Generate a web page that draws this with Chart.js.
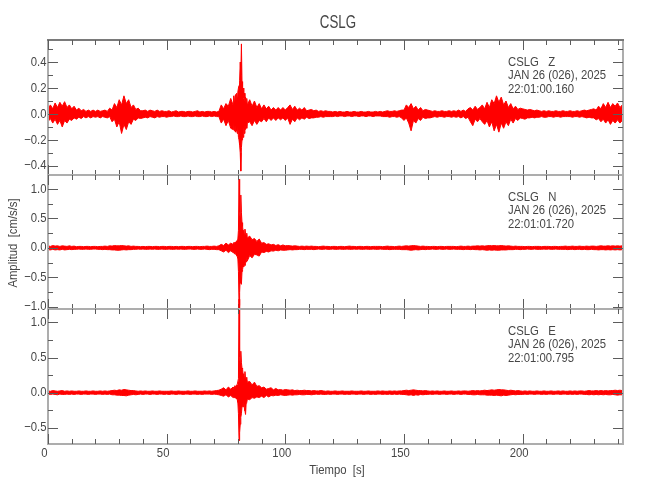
<!DOCTYPE html>
<html>
<head>
<meta charset="utf-8">
<script src="https://cdn.jsdelivr.net/npm/chart.js@4.4.1/dist/chart.umd.min.js"></script>
<style>
  body { margin: 0; background: #fff; }
  #lienzo { position: relative; width: 650px; height: 500px; }
  #lienzo canvas { position: absolute; left: 0; top: 0; }
</style>
</head>
<body>
<div id="lienzo">
  <canvas id="panelZ" width="650" height="500"></canvas>
  <canvas id="panelN" width="650" height="500"></canvas>
  <canvas id="panelE" width="650" height="500"></canvas>
</div>
<script>
"use strict";

// tiempos de muestreo de la envolvente [s] (mas fino alrededor del sismo)
const tiempo = [
    0, 1, 2, 3, 4, 5, 6, 7, 8, 9,
    10, 11, 12, 13, 14, 15, 16, 17, 18, 19,
    20, 21, 22, 23, 24, 25, 26, 27, 28, 29,
    30, 31, 32, 33, 34, 35, 36, 37, 38, 39,
    40, 41, 42, 43, 44, 45, 46, 47, 48, 49,
    50, 51, 52, 53, 54, 55, 56, 57, 58, 59,
    60, 61, 62, 63, 64, 65, 66, 67, 68, 69,
    70, 71, 72, 73, 74, 75, 76, 77,
    78, 78.25, 78.5, 78.75, 79, 79.25, 79.5, 79.75, 80, 80.25, 80.5, 80.75, 81,
    81.25, 81.5, 81.75, 82, 82.25, 82.5, 82.75, 83, 83.25, 83.5, 83.75, 84,
    85, 86, 87, 88, 89,
    90, 91, 92, 93, 94, 95, 96, 97, 98, 99,
    100, 101, 102, 103, 104, 105, 106, 107, 108, 109,
    110, 111, 112, 113, 114, 115, 116, 117, 118, 119,
    120, 121, 122, 123, 124, 125, 126, 127, 128, 129,
    130, 131, 132, 133, 134, 135, 136, 137, 138, 139,
    140, 141, 142, 143, 144, 145, 146, 147, 148, 149,
    150, 151, 152, 153, 154, 155, 156, 157, 158, 159,
    160, 161, 162, 163, 164, 165, 166, 167, 168, 169,
    170, 171, 172, 173, 174, 175, 176, 177, 178, 179,
    180, 181, 182, 183, 184, 185, 186, 187, 188, 189,
    190, 191, 192, 193, 194, 195, 196, 197, 198, 199,
    200, 201, 202, 203, 204, 205, 206, 207, 208, 209,
    210, 211, 212, 213, 214, 215, 216, 217, 218, 219,
    220, 221, 222, 223, 224, 225, 226, 227, 228, 229,
    230, 231, 232, 233, 234, 235, 236, 237, 238, 239,
    240, 241, 242,
];

// componente Z: envolvente superior e inferior [cm/s/s]
const zSup = [
    0.04, 0.07, 0.04, 0.085, 0.05, 0.09, 0.06, 0.095, 0.05, 0.07,
    0.04, 0.06, 0.03, 0.045, 0.025, 0.035, 0.02, 0.03, 0.02, 0.03,
    0.02, 0.03, 0.02, 0.025, 0.03, 0.02, 0.045, 0.03, 0.08, 0.05,
    0.11, 0.07, 0.14, 0.08, 0.11, 0.05, 0.07, 0.035, 0.045, 0.025,
    0.025, 0.03, 0.02, 0.03, 0.025, 0.02, 0.03, 0.02, 0.025, 0.02,
    0.02, 0.025, 0.015, 0.02, 0.025, 0.015, 0.02, 0.02, 0.015, 0.02,
    0.02, 0.015, 0.02, 0.025, 0.015, 0.02, 0.015, 0.02, 0.02, 0.015,
    0.02, 0.015, 0.02, 0.07, 0.04, 0.08, 0.06, 0.12,
    0.07, 0.14, 0.09, 0.13, 0.15, 0.1, 0.16, 0.12, 0.17, 0.2, 0.22, 0.26, 0.4,
    0.3, 0.54, 0.25, 0.18, 0.2, 0.12, 0.16, 0.1, 0.13, 0.08, 0.12, 0.07,
    0.11, 0.06, 0.1, 0.05, 0.08,
    0.04, 0.07, 0.04, 0.06, 0.03, 0.05, 0.03, 0.05, 0.03, 0.05,
    0.03, 0.05, 0.07, 0.035, 0.06, 0.03, 0.045, 0.03, 0.05, 0.025,
    0.03, 0.035, 0.025, 0.03, 0.02, 0.025, 0.02, 0.025, 0.02, 0.02,
    0.015, 0.02, 0.015, 0.02, 0.015, 0.015, 0.02, 0.015, 0.015, 0.02,
    0.015, 0.015, 0.02, 0.015, 0.015, 0.02, 0.015, 0.015, 0.02, 0.015,
    0.02, 0.015, 0.02, 0.025, 0.02, 0.02, 0.025, 0.02, 0.025, 0.03,
    0.03, 0.07, 0.05, 0.08, 0.04, 0.06, 0.03, 0.05, 0.025, 0.035,
    0.03, 0.025, 0.02, 0.025, 0.02, 0.02, 0.025, 0.02, 0.02, 0.025,
    0.02, 0.025, 0.02, 0.03, 0.02, 0.03, 0.02, 0.04, 0.05, 0.03,
    0.06, 0.035, 0.05, 0.07, 0.04, 0.09, 0.05, 0.11, 0.08, 0.14,
    0.09, 0.13, 0.07, 0.1, 0.05, 0.08, 0.04, 0.06, 0.035, 0.045,
    0.04, 0.035, 0.03, 0.035, 0.03, 0.025, 0.03, 0.025, 0.02, 0.025,
    0.02, 0.025, 0.02, 0.02, 0.025, 0.02, 0.02, 0.025, 0.02, 0.02,
    0.025, 0.02, 0.02, 0.025, 0.02, 0.025, 0.03, 0.025, 0.03, 0.035,
    0.04, 0.03, 0.06, 0.04, 0.08, 0.05, 0.09, 0.05, 0.08, 0.06,
    0.085, 0.05, 0.07,
];
const zInf = [
    -0.06, -0.035, -0.07, -0.04, -0.08, -0.05, -0.1, -0.05, -0.07, -0.04,
    -0.05, -0.03, -0.04, -0.025, -0.035, -0.02, -0.03, -0.02, -0.03, -0.02,
    -0.025, -0.02, -0.03, -0.02, -0.025, -0.03, -0.02, -0.06, -0.04, -0.1,
    -0.06, -0.15, -0.08, -0.12, -0.06, -0.08, -0.04, -0.05, -0.03, -0.035,
    -0.03, -0.025, -0.03, -0.02, -0.025, -0.03, -0.02, -0.025, -0.02, -0.02,
    -0.025, -0.02, -0.02, -0.015, -0.02, -0.02, -0.015, -0.02, -0.02, -0.015,
    -0.02, -0.02, -0.015, -0.02, -0.02, -0.015, -0.02, -0.02, -0.015, -0.02,
    -0.015, -0.02, -0.02, -0.07, -0.04, -0.09, -0.05, -0.11,
    -0.12, -0.07, -0.13, -0.09, -0.14, -0.08, -0.13, -0.15, -0.1, -0.18, -0.2, -0.24, -0.3,
    -0.44, -0.26, -0.2, -0.16, -0.18, -0.1, -0.15, -0.09, -0.12, -0.08, -0.11, -0.07,
    -0.06, -0.09, -0.05, -0.08, -0.05,
    -0.06, -0.035, -0.06, -0.03, -0.05, -0.03, -0.05, -0.03, -0.045, -0.03,
    -0.05, -0.03, -0.08, -0.04, -0.06, -0.03, -0.045, -0.03, -0.04, -0.025,
    -0.035, -0.03, -0.03, -0.025, -0.025, -0.02, -0.025, -0.02, -0.02, -0.02,
    -0.02, -0.015, -0.02, -0.015, -0.015, -0.02, -0.015, -0.015, -0.02, -0.015,
    -0.015, -0.02, -0.015, -0.015, -0.02, -0.015, -0.015, -0.02, -0.015, -0.015,
    -0.015, -0.02, -0.02, -0.02, -0.025, -0.02, -0.02, -0.025, -0.02, -0.03,
    -0.05, -0.03, -0.07, -0.13, -0.05, -0.07, -0.035, -0.05, -0.025, -0.035,
    -0.03, -0.03, -0.025, -0.02, -0.025, -0.02, -0.02, -0.025, -0.02, -0.02,
    -0.025, -0.02, -0.025, -0.02, -0.03, -0.02, -0.035, -0.025, -0.06, -0.09,
    -0.04, -0.06, -0.035, -0.06, -0.08, -0.05, -0.1, -0.06, -0.13, -0.08,
    -0.14, -0.07, -0.11, -0.06, -0.09, -0.04, -0.07, -0.035, -0.05, -0.03,
    -0.035, -0.04, -0.03, -0.03, -0.025, -0.03, -0.025, -0.025, -0.02, -0.025,
    -0.025, -0.02, -0.02, -0.025, -0.02, -0.02, -0.025, -0.02, -0.02, -0.02,
    -0.02, -0.025, -0.02, -0.02, -0.025, -0.02, -0.025, -0.03, -0.025, -0.03,
    -0.03, -0.045, -0.035, -0.06, -0.04, -0.07, -0.045, -0.08, -0.05, -0.07,
    -0.045, -0.07, -0.05,
];

// componente N
const nSup = [
    0.035, 0.025, 0.04, 0.03, 0.035, 0.025, 0.035, 0.03, 0.025, 0.035,
    0.025, 0.03, 0.02, 0.025, 0.025, 0.02, 0.025, 0.025, 0.02, 0.025,
    0.025, 0.02, 0.025, 0.025, 0.03, 0.025, 0.035, 0.03, 0.04, 0.035,
    0.035, 0.04, 0.035, 0.03, 0.035, 0.025, 0.03, 0.025, 0.025, 0.02,
    0.025, 0.02, 0.025, 0.025, 0.02, 0.025, 0.025, 0.02, 0.025, 0.025,
    0.02, 0.025, 0.025, 0.02, 0.025, 0.02, 0.025, 0.025, 0.02, 0.025,
    0.025, 0.02, 0.025, 0.025, 0.02, 0.025, 0.025, 0.03, 0.025, 0.025,
    0.03, 0.025, 0.035, 0.06, 0.04, 0.08, 0.05, 0.08,
    0.06, 0.09, 0.07, 0.1, 0.08, 0.11, 0.12, 0.13, 0.15, 0.3, 1.17, 0.6, 0.5,
    0.9, 0.6, 0.43, 0.36, 0.28, 0.3, 0.22, 0.32, 0.24, 0.2, 0.25, 0.17,
    0.2, 0.14, 0.16, 0.11, 0.15,
    0.08, 0.09, 0.06, 0.07, 0.05, 0.06, 0.04, 0.055, 0.035, 0.05,
    0.035, 0.04, 0.035, 0.03, 0.035, 0.03, 0.025, 0.03, 0.025, 0.03,
    0.025, 0.03, 0.025, 0.025, 0.02, 0.025, 0.03, 0.025, 0.025, 0.02,
    0.025, 0.025, 0.02, 0.025, 0.025, 0.02, 0.025, 0.03, 0.025, 0.025,
    0.02, 0.025, 0.025, 0.02, 0.025, 0.025, 0.02, 0.025, 0.025, 0.025,
    0.025, 0.02, 0.025, 0.03, 0.025, 0.025, 0.02, 0.025, 0.03, 0.025,
    0.03, 0.035, 0.03, 0.035, 0.04, 0.035, 0.03, 0.025, 0.03, 0.025,
    0.025, 0.02, 0.025, 0.025, 0.02, 0.025, 0.025, 0.02, 0.025, 0.025,
    0.025, 0.025, 0.02, 0.025, 0.03, 0.025, 0.025, 0.03, 0.025, 0.03,
    0.03, 0.035, 0.03, 0.035, 0.03, 0.035, 0.04, 0.035, 0.04, 0.035,
    0.035, 0.04, 0.035, 0.03, 0.035, 0.03, 0.025, 0.03, 0.025, 0.025,
    0.025, 0.02, 0.025, 0.025, 0.02, 0.025, 0.025, 0.025, 0.02, 0.025,
    0.025, 0.025, 0.02, 0.025, 0.025, 0.02, 0.025, 0.025, 0.03, 0.025,
    0.025, 0.03, 0.025, 0.025, 0.03, 0.025, 0.025, 0.03, 0.025, 0.03,
    0.03, 0.025, 0.03, 0.035, 0.03, 0.03, 0.035, 0.03, 0.035, 0.03,
    0.035, 0.03, 0.035,
];
const nInf = [
    -0.03, -0.035, -0.025, -0.035, -0.03, -0.035, -0.025, -0.035, -0.03, -0.025,
    -0.03, -0.025, -0.025, -0.02, -0.025, -0.025, -0.02, -0.025, -0.025, -0.02,
    -0.02, -0.025, -0.025, -0.03, -0.025, -0.03, -0.03, -0.035, -0.035, -0.04,
    -0.04, -0.035, -0.03, -0.035, -0.03, -0.03, -0.025, -0.025, -0.02, -0.025,
    -0.02, -0.025, -0.025, -0.02, -0.025, -0.02, -0.025, -0.025, -0.02, -0.025,
    -0.025, -0.02, -0.025, -0.025, -0.02, -0.025, -0.02, -0.025, -0.025, -0.02,
    -0.02, -0.025, -0.025, -0.02, -0.025, -0.025, -0.02, -0.025, -0.03, -0.025,
    -0.025, -0.03, -0.03, -0.05, -0.07, -0.04, -0.08, -0.05,
    -0.08, -0.06, -0.1, -0.07, -0.1, -0.12, -0.13, -0.15, -0.18, -0.4, -0.98, -0.76, -0.5,
    -0.6, -0.62, -0.4, -0.37, -0.3, -0.32, -0.22, -0.3, -0.2, -0.24, -0.16, -0.22,
    -0.13, -0.17, -0.11, -0.12, -0.14,
    -0.07, -0.08, -0.06, -0.07, -0.05, -0.055, -0.04, -0.05, -0.035, -0.04,
    -0.04, -0.035, -0.03, -0.035, -0.03, -0.03, -0.025, -0.025, -0.03, -0.025,
    -0.025, -0.025, -0.03, -0.025, -0.02, -0.025, -0.025, -0.02, -0.025, -0.025,
    -0.02, -0.025, -0.025, -0.02, -0.025, -0.025, -0.02, -0.025, -0.025, -0.02,
    -0.025, -0.02, -0.025, -0.025, -0.02, -0.025, -0.025, -0.02, -0.025, -0.025,
    -0.02, -0.025, -0.025, -0.025, -0.03, -0.025, -0.025, -0.025, -0.025, -0.03,
    -0.03, -0.03, -0.035, -0.04, -0.035, -0.03, -0.035, -0.03, -0.025, -0.03,
    -0.025, -0.025, -0.02, -0.025, -0.025, -0.02, -0.025, -0.025, -0.02, -0.025,
    -0.025, -0.02, -0.025, -0.025, -0.025, -0.03, -0.025, -0.025, -0.03, -0.025,
    -0.03, -0.03, -0.035, -0.03, -0.035, -0.04, -0.035, -0.04, -0.035, -0.04,
    -0.04, -0.035, -0.035, -0.035, -0.03, -0.03, -0.03, -0.025, -0.025, -0.03,
    -0.025, -0.025, -0.02, -0.025, -0.025, -0.02, -0.025, -0.025, -0.025, -0.02,
    -0.025, -0.02, -0.025, -0.025, -0.02, -0.025, -0.025, -0.025, -0.025, -0.03,
    -0.025, -0.025, -0.03, -0.025, -0.025, -0.03, -0.025, -0.03, -0.03, -0.025,
    -0.03, -0.03, -0.035, -0.03, -0.03, -0.035, -0.03, -0.035, -0.03, -0.035,
    -0.03, -0.035, -0.03,
];

// componente E
const eSup = [
    0.025, 0.02, 0.03, 0.025, 0.02, 0.025, 0.03, 0.02, 0.025, 0.02,
    0.025, 0.02, 0.02, 0.025, 0.02, 0.02, 0.025, 0.02, 0.02, 0.025,
    0.02, 0.02, 0.025, 0.02, 0.025, 0.02, 0.025, 0.03, 0.035, 0.03,
    0.04, 0.035, 0.045, 0.04, 0.035, 0.03, 0.03, 0.025, 0.02, 0.025,
    0.02, 0.025, 0.02, 0.02, 0.025, 0.02, 0.02, 0.025, 0.02, 0.02,
    0.02, 0.02, 0.025, 0.02, 0.02, 0.025, 0.02, 0.02, 0.02, 0.025,
    0.02, 0.02, 0.025, 0.02, 0.02, 0.02, 0.025, 0.02, 0.025, 0.02,
    0.025, 0.03, 0.035, 0.05, 0.07, 0.04, 0.08, 0.05,
    0.08, 0.06, 0.08, 0.1, 0.07, 0.1, 0.11, 0.12, 0.12, 0.2, 1.33, 0.5, 0.4,
    0.59, 0.43, 0.35, 0.33, 0.25, 0.27, 0.2, 0.3, 0.18, 0.2, 0.22, 0.15,
    0.16, 0.11, 0.15, 0.09, 0.1,
    0.07, 0.08, 0.05, 0.06, 0.07, 0.04, 0.06, 0.04, 0.045, 0.035,
    0.045, 0.04, 0.035, 0.04, 0.03, 0.035, 0.03, 0.03, 0.035, 0.03,
    0.03, 0.025, 0.03, 0.025, 0.025, 0.03, 0.025, 0.02, 0.025, 0.02,
    0.02, 0.025, 0.02, 0.02, 0.025, 0.02, 0.02, 0.02, 0.025, 0.02,
    0.02, 0.02, 0.025, 0.02, 0.02, 0.025, 0.02, 0.02, 0.02, 0.025,
    0.02, 0.025, 0.02, 0.02, 0.025, 0.02, 0.025, 0.02, 0.025, 0.025,
    0.03, 0.035, 0.03, 0.035, 0.04, 0.035, 0.03, 0.03, 0.025, 0.03,
    0.025, 0.02, 0.025, 0.02, 0.025, 0.02, 0.02, 0.025, 0.02, 0.02,
    0.025, 0.02, 0.02, 0.025, 0.02, 0.025, 0.025, 0.02, 0.025, 0.03,
    0.025, 0.03, 0.025, 0.03, 0.035, 0.03, 0.035, 0.04, 0.035, 0.04,
    0.045, 0.04, 0.04, 0.035, 0.03, 0.035, 0.03, 0.025, 0.03, 0.025,
    0.02, 0.025, 0.02, 0.025, 0.02, 0.02, 0.025, 0.02, 0.02, 0.025,
    0.02, 0.02, 0.025, 0.02, 0.02, 0.025, 0.02, 0.025, 0.02, 0.02,
    0.025, 0.02, 0.025, 0.02, 0.025, 0.025, 0.02, 0.025, 0.03, 0.025,
    0.025, 0.03, 0.025, 0.03, 0.025, 0.03, 0.025, 0.03, 0.03, 0.035,
    0.03, 0.035, 0.03,
];
const eInf = [
    -0.02, -0.025, -0.02, -0.025, -0.03, -0.02, -0.025, -0.025, -0.02, -0.025,
    -0.02, -0.025, -0.02, -0.02, -0.025, -0.02, -0.02, -0.025, -0.02, -0.02,
    -0.025, -0.02, -0.02, -0.025, -0.02, -0.025, -0.02, -0.03, -0.03, -0.035,
    -0.035, -0.04, -0.04, -0.045, -0.035, -0.03, -0.025, -0.03, -0.025, -0.02,
    -0.025, -0.02, -0.02, -0.025, -0.02, -0.02, -0.025, -0.02, -0.02, -0.025,
    -0.02, -0.025, -0.02, -0.02, -0.025, -0.02, -0.02, -0.025, -0.02, -0.02,
    -0.025, -0.02, -0.02, -0.025, -0.02, -0.025, -0.02, -0.02, -0.02, -0.025,
    -0.02, -0.025, -0.03, -0.04, -0.05, -0.03, -0.06, -0.04,
    -0.07, -0.05, -0.07, -0.06, -0.08, -0.06, -0.09, -0.1, -0.14, -0.3, -0.68, -0.57, -0.45,
    -0.35, -0.3, -0.2, -0.15, -0.2, -0.12, -0.22, -0.26, -0.31, -0.15, -0.14, -0.09,
    -0.1, -0.07, -0.08, -0.06, -0.07,
    -0.05, -0.07, -0.04, -0.06, -0.04, -0.045, -0.035, -0.04, -0.03, -0.035,
    -0.04, -0.035, -0.03, -0.035, -0.03, -0.03, -0.025, -0.03, -0.03, -0.025,
    -0.025, -0.03, -0.025, -0.02, -0.025, -0.02, -0.025, -0.025, -0.02, -0.025,
    -0.02, -0.02, -0.025, -0.02, -0.02, -0.025, -0.02, -0.025, -0.02, -0.02,
    -0.025, -0.02, -0.02, -0.025, -0.02, -0.02, -0.025, -0.02, -0.025, -0.02,
    -0.02, -0.025, -0.02, -0.025, -0.02, -0.025, -0.02, -0.025, -0.02, -0.025,
    -0.025, -0.03, -0.035, -0.03, -0.04, -0.03, -0.035, -0.025, -0.03, -0.025,
    -0.025, -0.02, -0.025, -0.02, -0.02, -0.025, -0.02, -0.02, -0.025, -0.02,
    -0.02, -0.025, -0.02, -0.02, -0.025, -0.02, -0.02, -0.025, -0.025, -0.03,
    -0.03, -0.025, -0.03, -0.03, -0.03, -0.035, -0.035, -0.035, -0.04, -0.035,
    -0.04, -0.045, -0.035, -0.04, -0.035, -0.03, -0.025, -0.03, -0.025, -0.025,
    -0.025, -0.02, -0.025, -0.02, -0.02, -0.025, -0.02, -0.02, -0.025, -0.02,
    -0.025, -0.02, -0.02, -0.025, -0.02, -0.02, -0.025, -0.02, -0.02, -0.025,
    -0.02, -0.025, -0.02, -0.025, -0.02, -0.02, -0.025, -0.025, -0.03, -0.025,
    -0.03, -0.025, -0.03, -0.025, -0.03, -0.025, -0.03, -0.03, -0.025, -0.03,
    -0.035, -0.03, -0.03,
];

const estacion = "CSLG";
const componentes = ["Z", "N", "E"];
const fechas = ["JAN 26 (026), 2025", "JAN 26 (026), 2025", "JAN 26 (026), 2025"];
const horas = ["22:01:00.160", "22:01:01.720", "22:01:00.795"];

const fuente = '"Liberation Sans", Arial, sans-serif';
const rojo = "#ff0000";
const grisTexto = "#464646";

function esMayor(valor, paso) {
    const r = valor / paso;
    return Math.abs(r - Math.round(r)) < 1e-6;
}

function etiquetaY(valor) {
    const s = Math.abs(valor).toFixed(1);
    return valor < -1e-9 ? "\u2212" + s : s;
}

// texto estrecho, parecido a la fuente del original
function texto(ctx, s, x, y, size, align, escala, rot) {
    ctx.save();
    ctx.font = size + "px " + fuente;
    ctx.fillStyle = grisTexto;
    ctx.textAlign = align;
    ctx.textBaseline = "middle";
    ctx.translate(x, y);
    if (rot) ctx.rotate(rot);
    ctx.scale(escala, 1);
    ctx.fillText(s, 0, 0);
    ctx.restore();
}

// marco, marcas hacia adentro y textos
const marcoPlugin = {
    id: "marco",
    afterDraw(chart, args, opts) {
        const { ctx, chartArea: a } = chart;
        const x = chart.scales.x;
        const y = chart.scales.y;
        ctx.save();
        ctx.strokeStyle = "#adadad";
        ctx.lineWidth = 2;
        ctx.strokeRect(a.left, a.top, a.right - a.left, a.bottom - a.top);
        if (opts.arribaOscuro) {
            ctx.strokeStyle = "#7a7a7a";
            ctx.beginPath();
            ctx.moveTo(a.left - 1, a.top);
            ctx.lineTo(a.right + 1, a.top);
            ctx.stroke();
        }

        ctx.strokeStyle = "#5c5c5c";
        ctx.lineWidth = 1;
        ctx.beginPath();
        x.ticks.forEach((t) => {
            const px = Math.round(x.getPixelForValue(t.value)) + 0.5;
            const largo = esMayor(t.value, 50) ? 10 : 5;
            ctx.moveTo(px, a.bottom);
            ctx.lineTo(px, a.bottom - largo);
            ctx.moveTo(px, a.top);
            ctx.lineTo(px, a.top + largo);
        });
        y.ticks.forEach((t) => {
            const py = Math.round(y.getPixelForValue(t.value)) + 0.5;
            const largo = esMayor(t.value, opts.mayor) ? 10 : 5;
            ctx.moveTo(a.left, py);
            ctx.lineTo(a.left + largo, py);
            ctx.moveTo(a.right, py);
            ctx.lineTo(a.right - largo, py);
        });
        ctx.stroke();
        ctx.restore();

        y.ticks.forEach((t) => {
            if (esMayor(t.value, opts.mayor)) {
                texto(ctx, etiquetaY(t.value), a.left - 1.5, y.getPixelForValue(t.value), 13, "right", 0.87);
            }
        });
        if (opts.etiquetasX) {
            x.ticks.forEach((t) => {
                if (esMayor(t.value, 50)) {
                    texto(ctx, String(t.value), x.getPixelForValue(t.value) - 3.5, a.bottom + 9, 13, "center", 0.87);
                }
            });
        }
        opts.rotulo.forEach((linea, i) => {
            texto(ctx, linea, 508, a.top + 22 + i * 13.5, 13, "left", 0.87);
        });
        (opts.textos || []).forEach((t) => {
            texto(ctx, t.texto, t.x, t.y, t.size, "center", t.escala, t.rot);
        });
    },
};

function puntos(valores) {
    return tiempo.map((t, i) => ({ x: t, y: valores[i] }));
}

function crearPanel(id, sup, inf, cfg) {
    return new Chart(document.getElementById(id), {
        type: "line",
        data: {
            datasets: [
                {
                    data: puntos(sup),
                    borderColor: rojo,
                    borderWidth: 1,
                    pointRadius: 0,
                    fill: false,
                    clip: { left: 0, right: 0, bottom: 0, top: false },
                },
                {
                    data: puntos(inf),
                    borderColor: rojo,
                    borderWidth: 1,
                    pointRadius: 0,
                    backgroundColor: rojo,
                    fill: "-1",
                },
            ],
        },
        options: {
            responsive: false,
            animation: false,
            events: [],
            layout: {
                padding: { left: 0, right: 27, top: cfg.top, bottom: 500 - cfg.bottom },
            },
            plugins: {
                legend: { display: false },
                tooltip: { enabled: false },
                marco: cfg,
            },
            scales: {
                x: {
                    type: "linear",
                    min: 0,
                    max: 242.3,
                    grid: { display: false, drawTicks: false },
                    border: { display: false },
                    ticks: { display: false, stepSize: 10, includeBounds: false, autoSkip: false },
                    afterFit: (s) => {
                        s.height = 0;
                    },
                },
                y: {
                    min: cfg.min,
                    max: cfg.max,
                    grid: { display: false, drawTicks: false },
                    border: { display: false },
                    ticks: { display: false, stepSize: cfg.paso, includeBounds: false, autoSkip: false },
                    afterFit: (s) => {
                        s.width = 48;
                    },
                },
            },
        },
        plugins: [marcoPlugin],
    });
}

crearPanel("panelZ", zSup, zInf, {
    top: 40, bottom: 175, min: -0.47, max: 0.57, paso: 0.1, mayor: 0.2, arribaOscuro: true,
    rotulo: [estacion + "   " + componentes[0], fechas[0], horas[0]],
    textos: [{ texto: estacion, x: 338, y: 23, size: 18, escala: 0.74 }],
});
crearPanel("panelN", nSup, nInf, {
    top: 175, bottom: 309, min: -1.04, max: 1.24, paso: 0.25, mayor: 0.5,
    rotulo: [estacion + "   " + componentes[1], fechas[1], horas[1]],
    textos: [{ texto: "Amplitud  [cm/s/s]", x: 13, y: 243, size: 13, escala: 0.87, rot: -Math.PI / 2 }],
});
crearPanel("panelE", eSup, eInf, {
    top: 309, bottom: 444, min: -0.73, max: 1.19, paso: 0.25, mayor: 0.5, etiquetasX: true,
    rotulo: [estacion + "   " + componentes[2], fechas[2], horas[2]],
    textos: [{ texto: "Tiempo  [s]", x: 337, y: 470, size: 13, escala: 0.87 }],
});
</script>
</body>
</html>
